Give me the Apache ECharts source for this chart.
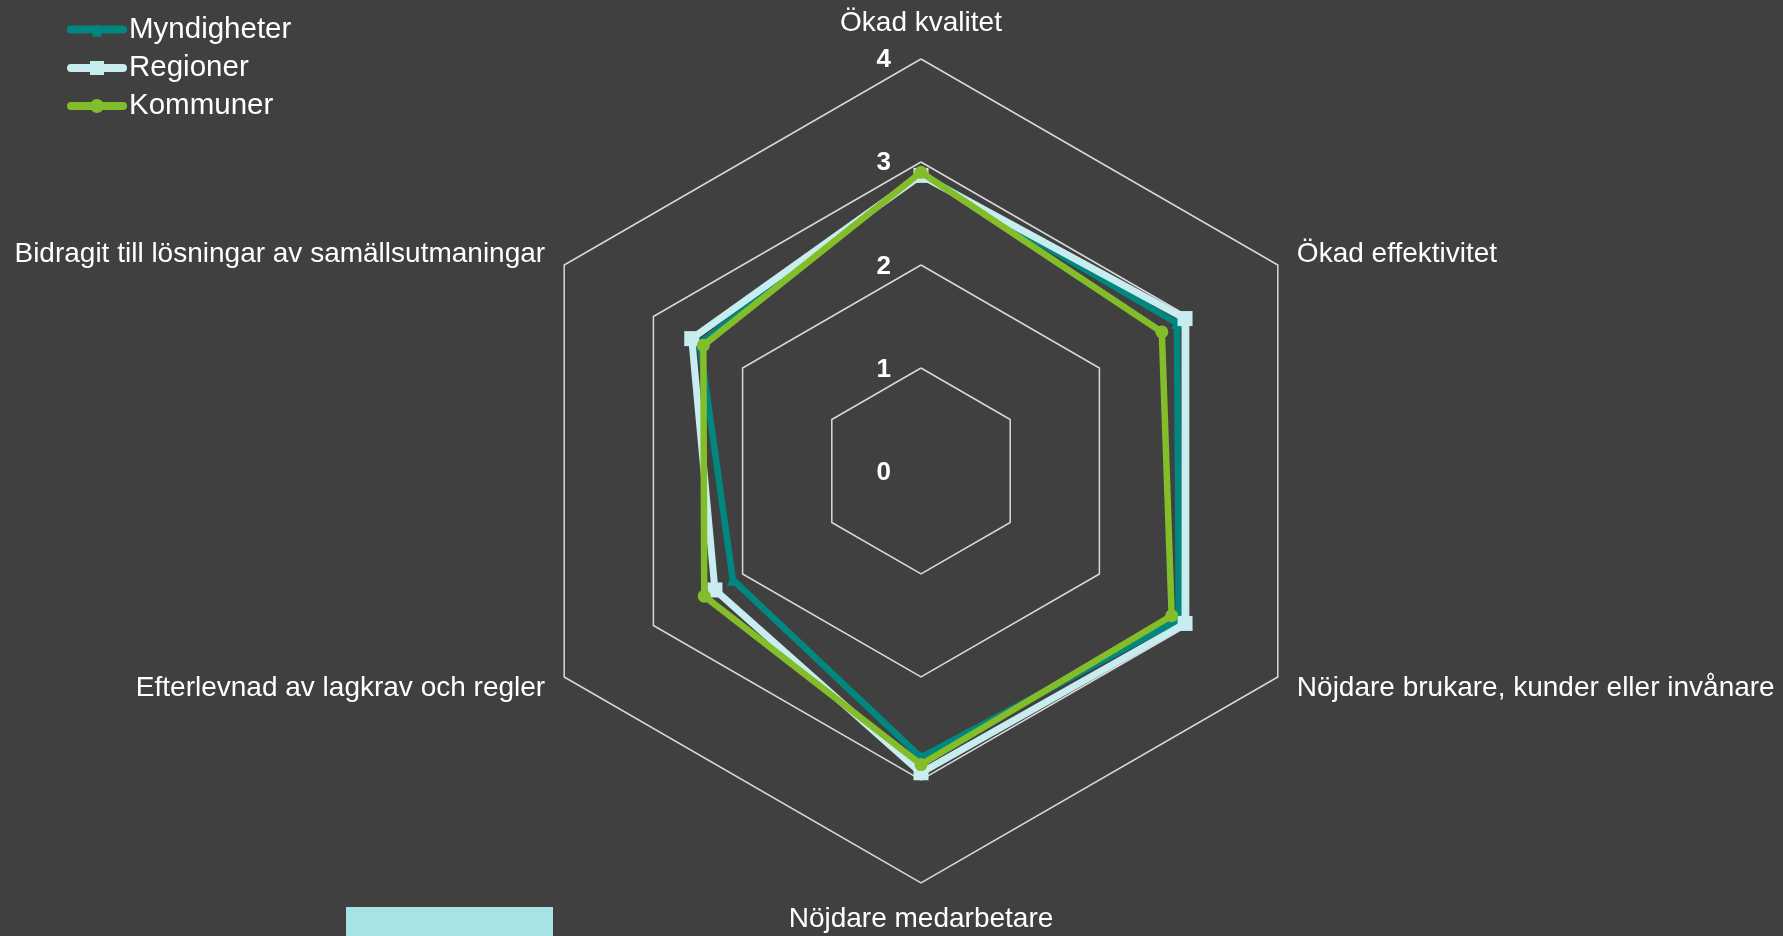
<!DOCTYPE html>
<html>
<head>
<meta charset="utf-8">
<script src="https://cdn.jsdelivr.net/npm/echarts@6/dist/echarts.min.js"></script>
<style>
html,body{margin:0;padding:0;background:#404040;}
#c{width:1783px;height:936px;}
</style>
</head>
<body>
<div id="c"></div>
<script>
// Indicators listed top first, then counter-clockwise (ECharts radar order)
const indicators = [
  'Ökad kvalitet',
  'Bidragit till lösningar av samällsutmaningar',
  'Efterlevnad av lagkrav och regler',
  'Nöjdare medarbetare',
  'Nöjdare brukare, kunder eller invånare',
  'Ökad effektivitet'
];
const seriesNames = ['Myndigheter', 'Regioner', 'Kommuner'];
const myndigheter = [2.89, 2.48, 2.11, 2.78, 2.89, 2.87];
const regioner    = [2.87, 2.57, 2.31, 2.93, 2.96, 2.96];
const kommuner    = [2.90, 2.44, 2.43, 2.85, 2.81, 2.70];
const tickValues = [0, 1, 2, 3, 4];

const colors = ['#00877f', '#c8edf0', '#84bd2a'];
const symbols = ['triangle', 'rect', 'circle'];
const symbolSizes = [12, 15, 13];
const lineWidths = [6.5, 7, 6.5];
const lineBar = 'M4 3 L56 3 A4 4 0 0 1 56 11 L4 11 A4 4 0 0 1 4 3 Z ';
const legendIcons = [
  'path://' + lineBar + 'M30 1 L35 14 L25 14 Z',
  'path://' + lineBar + 'M23 0 L37 0 L37 14 L23 14 Z',
  'path://' + lineBar + 'M30 0 A7 7 0 1 1 30 14 A7 7 0 1 1 30 0 Z'
];
const values = [myndigheter, regioner, kommuner];

const chart = echarts.init(document.getElementById('c'));
const font = '"Liberation Sans", Arial, sans-serif';
chart.setOption({
  backgroundColor: '#404040',
  animation: false,
  textStyle: { fontFamily: font },
  legend: {
    orient: 'vertical',
    left: 62, top: 10,
    itemWidth: 60, itemHeight: 14,
    itemGap: 8,
    textStyle: { color: '#ffffff', fontSize: 29.5, fontFamily: font, padding: [0,0,0,-3] },
    data: seriesNames.map((n, i) => ({ name: n, icon: legendIcons[i], itemStyle: { color: colors[i] } }))
  },
  radar: {
    center: [921, 471],
    radius: 412,
    startAngle: 90,
    shape: 'polygon',
    splitNumber: 4,
    nameGap: 22,
    axisName: { color: '#ffffff', fontSize: 28, fontFamily: font },
    axisLine: { show: false },
    axisTick: { show: false },
    axisLabel: { show: false },
    splitArea: { show: false },
    splitLine: { lineStyle: { color: '#d9d9d9', width: 1.5 } },
    indicator: indicators.map(n => ({ name: n, min: 0, max: 4 }))
  },
  grid: { left: 921, top: 60, width: 1, height: 413 },
  xAxis: { type: 'value', show: false },
  yAxis: {
    type: 'value', min: tickValues[0], max: tickValues[tickValues.length-1], interval: 1,
    axisLine: { show: false }, axisTick: { show: false }, splitLine: { show: false },
    axisLabel: { color: '#ffffff', fontSize: 26, fontWeight: 'bold', margin: 30, fontFamily: font,
      formatter: v => tickValues.includes(v) ? String(v) : '' }
  },
  graphic: [{
    type: 'rect', shape: { x: 346, y: 907, width: 207, height: 40 },
    style: { fill: '#a8e3e4' }, silent: true
  }],
  series: seriesNames.map((n, i) => ({
    type: 'radar',
    name: n,
    symbol: symbols[i],
    symbolSize: symbolSizes[i],
    itemStyle: { color: colors[i] },
    lineStyle: { color: colors[i], width: lineWidths[i] },
    z: 2 + i,
    data: [{ value: values[i], name: n }]
  }))
});
</script>
</body>
</html>
